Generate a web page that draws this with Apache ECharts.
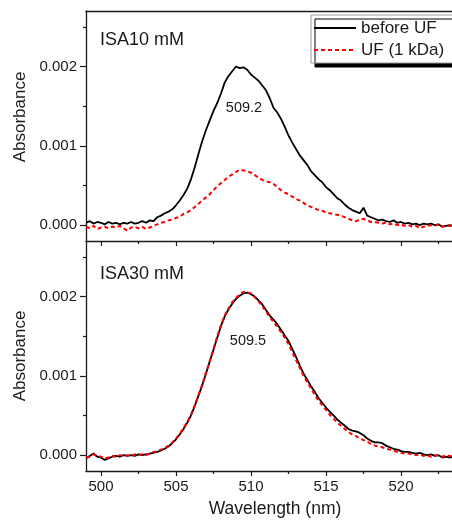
<!DOCTYPE html>
<html>
<head>
<meta charset="utf-8">
<script src="https://cdn.jsdelivr.net/npm/echarts@6/dist/echarts.min.js"></script>
<style>
    html, body { margin: 0; padding: 0; background: #fff; }
    #chart { width: 452px; height: 520px; }
</style>
</head>
<body>
<div id="chart"></div>
<script>
// 波长 (nm)
const wavelength = [
    499.00, 499.25, 499.50, 499.75,
    500.00, 500.25, 500.50, 500.75,
    501.00, 501.25, 501.50, 501.75,
    502.00, 502.25, 502.50, 502.75,
    503.00, 503.25, 503.50, 503.75,
    504.00, 504.25, 504.50, 504.75,
    505.00, 505.25, 505.50, 505.75,
    506.00, 506.25, 506.50, 506.75,
    507.00, 507.25, 507.50, 507.75,
    508.00, 508.25, 508.50, 508.75,
    509.00, 509.25, 509.50, 509.75,
    510.00, 510.25, 510.50, 510.75,
    511.00, 511.25, 511.50, 511.75,
    512.00, 512.25, 512.50, 512.75,
    513.00, 513.25, 513.50, 513.75,
    514.00, 514.25, 514.50, 514.75,
    515.00, 515.25, 515.50, 515.75,
    516.00, 516.25, 516.50, 516.75,
    517.00, 517.25, 517.50, 517.75,
    518.00, 518.25, 518.50, 518.75,
    519.00, 519.25, 519.50, 519.75,
    520.00, 520.25, 520.50, 520.75,
    521.00, 521.25, 521.50, 521.75,
    522.00, 522.25, 522.50, 522.75,
    523.00, 523.25, 523.50
];

// 吸光度，单位 1e-5
const isa10Before = [
    3, 5, 2, 4,   3, 1, 4, 2,   3, 1, 3, 2,   4, 2, 3, 5,
    3, 6, 5, 10,  12, 15, 17, 20,  25, 31, 38, 46,
    58, 73, 90, 106,  120, 132, 144, 154,  166, 180, 188, 194,
    200, 198, 199, 196,  190, 186, 182, 176,  170, 160, 148, 142,
    134, 124, 113, 104,  96, 88, 82, 76,  68, 63, 58, 54,
    48, 44, 39, 34,  31, 26, 22, 19,  17, 15, 22, 12,
    10, 8, 6, 7,  5, 4, 6, 3,  4, 2, 3, 1,  2, 0, 2, 1,
    2, 0, 1, -2,  -1, 0, -1
];
const isa10After = [
    -2, -4, -1, -5,  -3, -2, -4, -2,  -3, -1, -4, -7,  -3, -2, -4, -2,
    -5, -3, -1, 1,  3, 4, 6, 7,  9, 11, 14, 16,
    19, 23, 27, 31,  35, 39, 44, 49,  53, 57, 61, 64,
    67, 70, 69, 68,  66, 63, 60, 57,  55, 54, 52, 48,
    44, 41, 39, 36,  33, 31, 28, 25,  23, 21, 19, 18,
    16, 15, 14, 13,  12, 10, 8, 6,  5, 7, 8, 6,
    4, 4, 3, 2,  3, 1, 2, 0,  1, -1, 0, -2,  -1, -4, -2, -1,
    0, -1, 1, -2,  0, -1, 0
];
const isa30Before = [
    -4, -1, 2, -2,  -3, -6, -4, -2,  -1, -2, 0, -1,  0, -1, 1, 0,
    1, 2, 3, 4,  6, 8, 11, 15,  20, 26, 33, 41,
    50, 62, 75, 88,  103, 118, 133, 148,  163, 175, 184, 191,
    197, 201, 204, 205,  203, 200, 195, 190,  183, 176, 171, 165,
    158, 151, 144, 134,  124, 113, 103, 95,  87, 80, 72, 66,
    60, 55, 50, 45,  41, 37, 33, 31,  30, 28, 25, 21,
    18, 16, 16, 15,  12, 10, 8, 7,  5, 4, 4, 3,  2, 3, 1, 0,
    1, -1, 0, -3,  -2, -3, -2
];
const isa30After = [
    -3, -2, 1, -1,  -2, -4, -3, -1,  -2, 0, -1, 0,  -1, 1, 0, 1,
    0, 2, 4, 5,  7, 9, 12, 16,  21, 27, 34, 42,
    51, 63, 76, 89,  104, 119, 134, 150,  164, 176, 185, 193,
    198, 203, 206, 205,  204, 199, 194, 188,  181, 174, 168, 162,
    155, 148, 140, 130,  120, 110, 100, 92,  84, 76, 69, 63,
    57, 51, 46, 41,  37, 33, 29, 26,  24, 21, 19, 17,
    14, 12, 11, 10,  8, 7, 6, 4,  3, 2, 2, 1,  0, 1, -1, 0,
    -2, 0, -1, -2,  0, -1, -2
];

// 刻度
const xMajorTicks = [500, 505, 510, 515, 520];
const xMinorTicks = [502.5, 507.5, 512.5, 517.5, 522.5];
const yMajorTicks = [0, 0.001, 0.002];
const yMinorTicks = [0.0005, 0.0015, 0.0025];

// 文字
const seriesNames = ['before UF', 'UF (1 kDa)'];
const panelNames = ['ISA10 mM', 'ISA30 mM'];
const peakLabels = ['509.2', '509.5'];

const FONT = '"Liberation Sans", Arial, sans-serif';
const INK = '#1a1a1a';
const X_MIN = 499, X_MAX = 523.4;
const Y_MIN = -0.0002, Y_MAX = 0.0027;

function toPairs(values) {
    return values.map((v, i) => [wavelength[i], v / 1e5]);
}

// x 轴（主刻度 / 次刻度 / 上边框）
function xMajor(gridIndex, withLabels) {
    return {
        type: 'value', gridIndex, position: 'bottom', min: X_MIN, max: X_MAX,
        axisLine: { show: true, onZero: false, lineStyle: { color: INK, width: 1.3 } },
        axisTick: { show: true, customValues: xMajorTicks, length: 5, lineStyle: { color: INK, width: 1.2 } },
        axisLabel: { show: withLabels, customValues: xMajorTicks, margin: 8, fontSize: 15, color: INK, fontFamily: FONT },
        splitLine: { show: false },
        name: withLabels ? 'Wavelength (nm)' : '',
        nameLocation: 'middle', nameGap: 29,
        nameTextStyle: { fontSize: 17.5, color: INK, fontFamily: FONT, padding: [0, 0, 0, 12] }
    };
}
function xMinor(gridIndex) {
    return {
        type: 'value', gridIndex, position: 'bottom', min: X_MIN, max: X_MAX,
        axisLine: { show: false, onZero: false },
        axisTick: { show: true, customValues: xMinorTicks, length: 3, lineStyle: { color: INK, width: 1.2 } },
        axisLabel: { show: false },
        splitLine: { show: false }
    };
}
function xTopBorder(gridIndex) {
    return {
        type: 'value', gridIndex, position: 'top', min: X_MIN, max: X_MAX,
        axisLine: { show: true, onZero: false, lineStyle: { color: INK, width: 1.3 } },
        axisTick: { show: false }, axisLabel: { show: false }, splitLine: { show: false }
    };
}

// y 轴
function yMajor(gridIndex, namePad) {
    return {
        type: 'value', gridIndex, position: 'left', min: Y_MIN, max: Y_MAX,
        axisLine: { show: true, onZero: false, lineStyle: { color: INK, width: 1.3 } },
        axisTick: { show: true, customValues: yMajorTicks, length: 6, lineStyle: { color: INK, width: 1.2 } },
        axisLabel: {
            show: true, customValues: yMajorTicks, margin: 9, fontSize: 15, color: INK, fontFamily: FONT,
            formatter: v => v.toFixed(3)
        },
        splitLine: { show: false },
        name: 'Absorbance', nameLocation: 'middle', nameGap: 55,
        nameTextStyle: { fontSize: 17, color: INK, fontFamily: FONT, padding: namePad }
    };
}
function yMinor(gridIndex) {
    return {
        type: 'value', gridIndex, position: 'left', min: Y_MIN, max: Y_MAX,
        axisLine: { show: false, onZero: false },
        axisTick: { show: true, customValues: yMinorTicks, length: 3, lineStyle: { color: INK, width: 1.2 } },
        axisLabel: { show: false },
        splitLine: { show: false }
    };
}

function lineSeries(name, values, xi, yi) {
    const isBefore = name === seriesNames[0];
    return {
        name, type: 'line', xAxisIndex: xi, yAxisIndex: yi,
        data: toPairs(values),
        symbol: 'none', showSymbol: false,
        lineStyle: isBefore
            ? { color: '#000', width: 1.8 }
            : { color: '#ff0000', width: 2, type: [4, 3] },
        itemStyle: { color: isBefore ? '#000' : '#ff0000' },
        animation: false
    };
}

function label(text, x, y, size, align) {
    return {
        type: 'text', x, y,
        style: { text, fontSize: size, fontFamily: FONT, fill: INK, align, verticalAlign: 'middle' }
    };
}

const chart = echarts.init(document.getElementById('chart'));
chart.setOption({
    backgroundColor: '#fff',
    animation: false,
    grid: [
        { left: 86, top: 11, right: 0, height: 230 },
        { left: 86, top: 241, right: 0, height: 230 }
    ],
    xAxis: [xMajor(0, false), xMinor(0), xTopBorder(0), xMajor(1, true), xMinor(1)],
    yAxis: [yMajor(0, [0, 0, 0, 18]), yMinor(0), yMajor(1, 0), yMinor(1)],
    legend: {
        data: seriesNames, orient: 'vertical', left: 311, top: 15,
        itemWidth: 42, itemHeight: 14, itemGap: 4,
        padding: [4, 40, 4, 2],
        itemStyle: { opacity: 0 },
        backgroundColor: '#fff', borderColor: '#9a9a9a', borderWidth: 1,
        shadowColor: '#000', shadowBlur: 0, shadowOffsetX: 4, shadowOffsetY: 4,
        textStyle: { fontSize: 17, lineHeight: 18, color: INK, fontFamily: FONT }
    },
    series: [
        lineSeries(seriesNames[0], isa10Before, 0, 0),
        lineSeries(seriesNames[1], isa10After, 0, 0),
        lineSeries(seriesNames[0], isa30Before, 3, 2),
        lineSeries(seriesNames[1], isa30After, 3, 2)
    ],
    graphic: [
        label(panelNames[0], 100, 40, 18, 'left'),
        label(peakLabels[0], 244, 108, 14.5, 'center'),
        label(panelNames[1], 100, 274, 18, 'left'),
        label(peakLabels[1], 248, 341, 14.5, 'center')
    ]
});
</script>
</body>
</html>
